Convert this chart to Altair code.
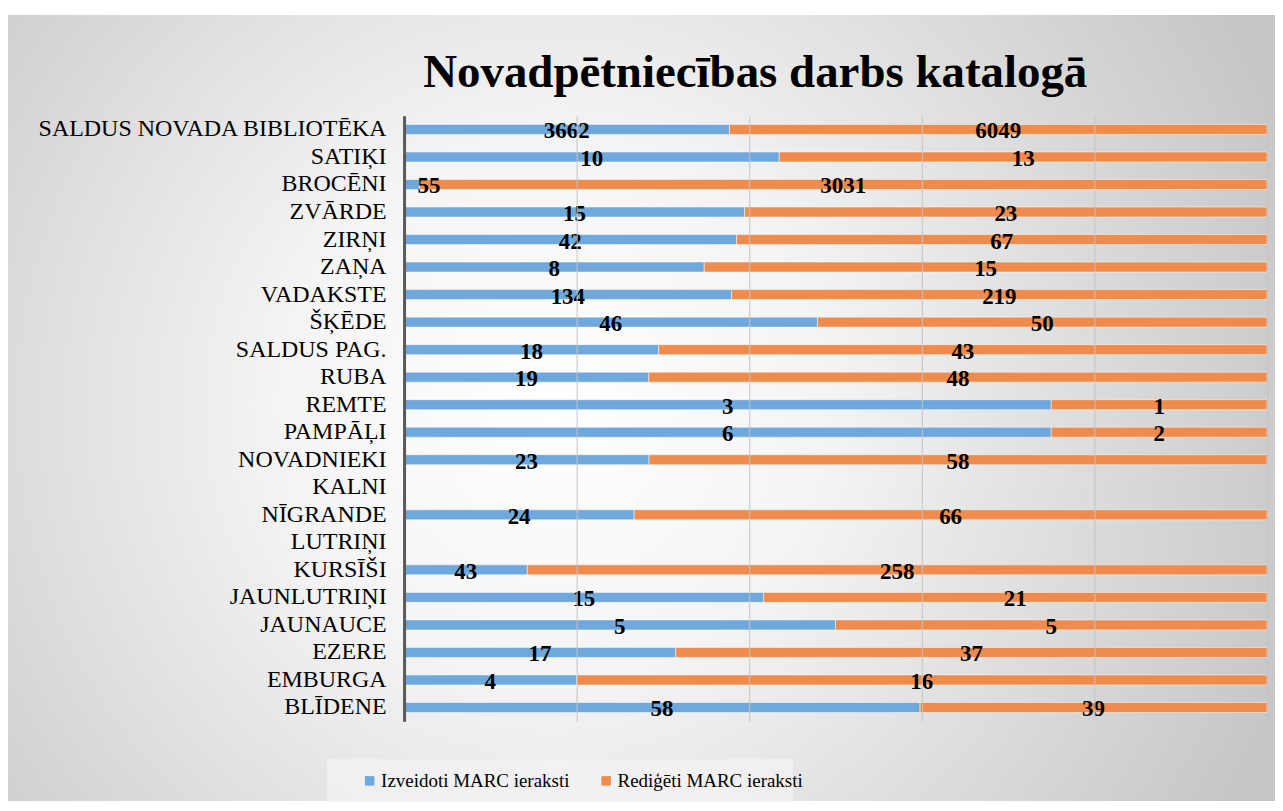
import altair as alt
import pandas as pd

categories = ["SALDUS NOVADA BIBLIOTĒKA", "SATIĶI", "BROCĒNI", "ZVĀRDE", "ZIRŅI", "ZAŅA",
              "VADAKSTE", "ŠĶĒDE", "SALDUS PAG.", "RUBA", "REMTE", "PAMPĀĻI", "NOVADNIEKI",
              "KALNI", "NĪGRANDE", "LUTRIŅI", "KURSĪŠI", "JAUNLUTRIŅI", "JAUNAUCE", "EZERE",
              "EMBURGA", "BLĪDENE"]
izveidoti = [3662, 10, 55, 15, 42, 8, 134, 46, 18, 19, 3, 6, 23, None, 24, None, 43, 15, 5, 17, 4, 58]
redigeti = [6049, 13, 3031, 23, 67, 15, 219, 50, 43, 48, 1, 2, 58, None, 66, None, 258, 21, 5, 37, 16, 39]
series = ["Izveidoti MARC ieraksti", "Rediģēti MARC ieraksti"]
colors = ["#6FA8DC", "#EE8B4D"]
title_text = ["Novadpētniecības darbs katalogā"]

rows = []
for c, a, b in zip(categories, izveidoti, redigeti):
    if a is not None:
        rows.append({"cat": c, "series": series[0], "ord": 0, "value": a})
    if b is not None:
        rows.append({"cat": c, "series": series[1], "ord": 1, "value": b})
df = pd.DataFrame(rows)

W, H = 865, 607
FONT = "Liberation Serif"

ybase = alt.Y("cat:N", scale=alt.Scale(domain=categories, paddingInner=0.0, paddingOuter=0.0),
              axis=alt.Axis(title=None, domainColor="#595959", domainWidth=3, ticks=False,
                            labelFont=FONT, labelFontSize=24, labelColor="#000000",
                            labelPadding=18, labelLimit=500, zindex=1))

one = pd.DataFrame({"k": [0]})
bg = alt.Chart(one).mark_rect(
    fill=alt.RadialGradient(gradient="radial",
                            stops=[alt.GradientStop(color="#ffffff", offset=0),
                                   alt.GradientStop(color="#f4f4f4", offset=0.35),
                                   alt.GradientStop(color="#c6c6c6", offset=1)],
                            x1=0.43, y1=0.5, r1=0, x2=0.43, y2=0.5, r2=0.62)
).encode(x=alt.value(-397), x2=alt.value(W + 8), y=alt.value(-101), y2=alt.value(H + 80))

legbox = alt.Chart(one).mark_rect(fill="#f4f4f4", opacity=0.7).encode(
    x=alt.value(-77), x2=alt.value(390), y=alt.value(645), y2=alt.value(688))

title = alt.Chart(pd.DataFrame({"t": title_text})).mark_text(
    font=FONT, fontSize=47, fontWeight="bold", color="#000000",
    align="center", baseline="alphabetic"
).encode(x=alt.value(352), y=alt.value(-29), text="t:N")

bars = alt.Chart(df).mark_bar(size=10, stroke="#ffffff", strokeWidth=1, strokeOpacity=0.5).encode(
    x=alt.X("value:Q", stack="normalize",
            scale=alt.Scale(domain=[0, 1], nice=False),
            axis=alt.Axis(title=None, labels=False, ticks=False, domain=False,
                          grid=True, gridColor="#c4c4c4", gridWidth=1,
                          values=[0, 0.2, 0.4, 0.6, 0.8, 1.0], zindex=1)),
    y=ybase,
    color=alt.Color("series:N", scale=alt.Scale(domain=series, range=colors),
                    legend=alt.Legend(title=None, orient="none", legendX=-44, legendY=657,
                                      direction="horizontal", symbolType="square",
                                      symbolSize=90, symbolStrokeWidth=0,
                                      labelFont=FONT, labelFontSize=19, labelColor="#000000",
                                      labelLimit=400,
                                      columnPadding=27, labelOffset=2, padding=0, zindex=1)),
    order=alt.Order("ord:Q"),
)

labels = alt.Chart(df).transform_joinaggregate(
    total="sum(value)", groupby=["cat"]
).transform_calculate(
    frac="datum.value / datum.total"
).transform_window(
    cum="sum(frac)", sort=[alt.SortField("ord")], groupby=["cat"], frame=[None, 0]
).transform_calculate(
    mid="max(datum.cum - datum.frac / 2, 0.029)"
).mark_text(font=FONT, fontSize=23, fontWeight="bold", color="#000000",
            baseline="middle", dy=2).encode(
    x=alt.X("mid:Q", scale=alt.Scale(domain=[0, 1], nice=False)),
    y=alt.Y("cat:N", scale=alt.Scale(domain=categories)),
    text=alt.Text("value:Q"),
)

chart = alt.layer(bg, legbox, title, bars, labels).properties(
    width=W, height=H,
    autosize=alt.AutoSizeParams(type="none"),
    padding={"left": 397, "top": 107, "right": 8, "bottom": 80},
).configure_view(stroke=None).configure(background="#ffffff")

chart.save("out.html", embed_options={"renderer": "svg", "actions": False})
